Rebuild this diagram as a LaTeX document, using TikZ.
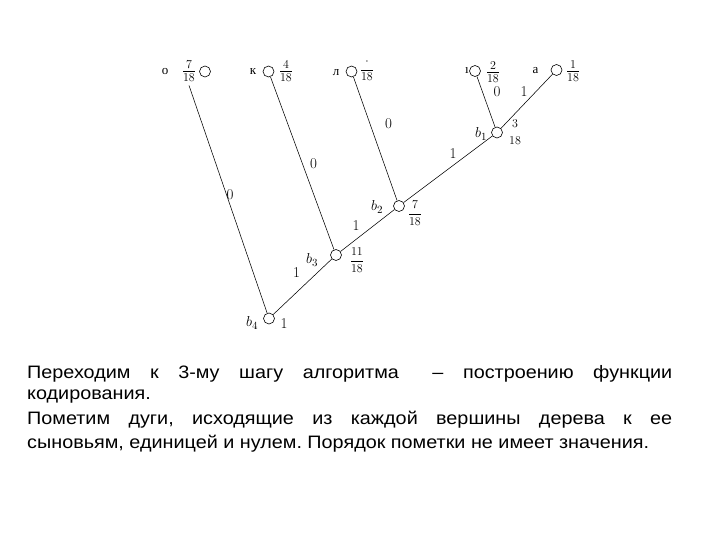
\documentclass[tikz,border=0pt]{standalone}
\usepackage{amsmath}
\usepackage{fontspec}
\newfontfamily\cyrserif{Liberation Serif}
\newfontfamily\txtfont[FakeStretch=1.1]{Liberation Sans}
\frenchspacing
\begin{document}
\begin{tikzpicture}[x=1pt,y=-1pt,
  vert/.style={circle,draw,inner sep=0pt,minimum size=11pt,line width=0.6pt},
  edge/.style={line width=0.55pt},
  letter/.style={inner sep=0pt,font=\cyrserif\fontsize{13}{15}\selectfont},
  frc/.style={inner sep=0pt,font=\fontsize{17}{19}\selectfont},
  bfrc/.style={inner sep=0pt,font=\fontsize{13}{15}\selectfont},
  blab/.style={inner sep=0pt,font=\fontsize{15}{17}\selectfont},
  elab/.style={inner sep=0pt,font=\fontsize{15}{17}\selectfont},
  txt/.style={inner sep=0pt,anchor=base west,font=\txtfont\fontsize{18}{22}\selectfont}]
\useasboundingbox (0,0) rectangle (720,540);

% top leaves
\node[letter] (lo) at (165,72) {о};
\node[frc] (fo) at (189,71) {$\tfrac{7}{18}$};
\node[vert] (co) at (205,71.5) {};

\node[letter] (lk) at (253,72) {к};
\node[vert] (ck) at (268.5,71.5) {};
\node[frc] (fk) at (286,71) {$\tfrac{4}{18}$};

\node[letter] (ll) at (336,73) {л};
\node[vert] (cl) at (351.5,71.5) {};
\node[frc] (fl) at (367,70) {$\tfrac{\raisebox{3pt}{$\scriptstyle\cdot$}}{18}$};

\node[letter] (li) at (467,71) {ı};
\node[vert] (ci) at (475,71) {};
\node[frc] (fi) at (493,72) {$\tfrac{2}{18}$};

\node[letter] (la) at (535.5,71) {а};
\node[vert] (ca) at (556.5,70) {};
\node[frc] (fa) at (573,71) {$\tfrac{1}{18}$};

% inner vertices
\node[vert] (b1) at (497,132.5) {};
\node[blab] (lb1) at (481,134) {$b_1$};
\node[bfrc] (f1) at (515,132) {$\genfrac{}{}{0pt}{0}{3}{18}$};

\node[vert] (b2) at (399,206) {};
\node[blab] (lb2) at (377,207) {$b_2$};
\node[bfrc] (f2) at (415,213) {$\dfrac{7}{18}$};

\node[vert] (b3) at (336,255) {};
\node[blab] (lb3) at (312,260) {$b_3$};
\node[bfrc] (f3) at (357,260) {$\dfrac{11}{18}$};

\node[vert] (b4) at (269,318.5) {};
\node[blab] (lb4) at (252,323) {$b_4$};
\node[elab] (w4) at (284,324) {1};

% edges
\draw[edge] ([yshift=-4pt]fo.south) -- (b4);
\draw[edge] (ck) -- (b3);
\draw[edge] (cl) -- (b2);
\draw[edge] (ci) -- (b1);
\draw[edge] (ca) -- (b1);
\draw[edge] (b1) -- (b2);
\draw[edge] (b2) -- (b3);
\draw[edge] (b3) -- (b4);

% edge labels
\node[elab] (e1) at (230,195) {0};
\node[elab] (e2) at (313.5,163.5) {0};
\node[elab] (e3) at (388.5,123.5) {0};
\node[elab] (e4) at (497,92) {0};
\node[elab] (e5) at (524,92) {1};
\node[elab] (e6) at (453,153.5) {1};
\node[elab] (e7) at (356,226) {1};
\node[elab] (e8) at (296.5,273) {1};

% text
\node[txt] (t1) at (27,378) {\makebox[645pt][s]{Переходим к 3-му шагу алгоритма\hspace{14pt} – построению функции}};
\node[txt] (t2) at (27,399) {кодирования.};
\node[txt] (t3) at (27,424) {\makebox[645pt][s]{Пометим дуги, исходящие из каждой вершины дерева к ее}};
\node[txt] (t4) at (27,448) {сыновьям, единицей и нулем. Порядок пометки не имеет значения.};
\end{tikzpicture}
\end{document}
